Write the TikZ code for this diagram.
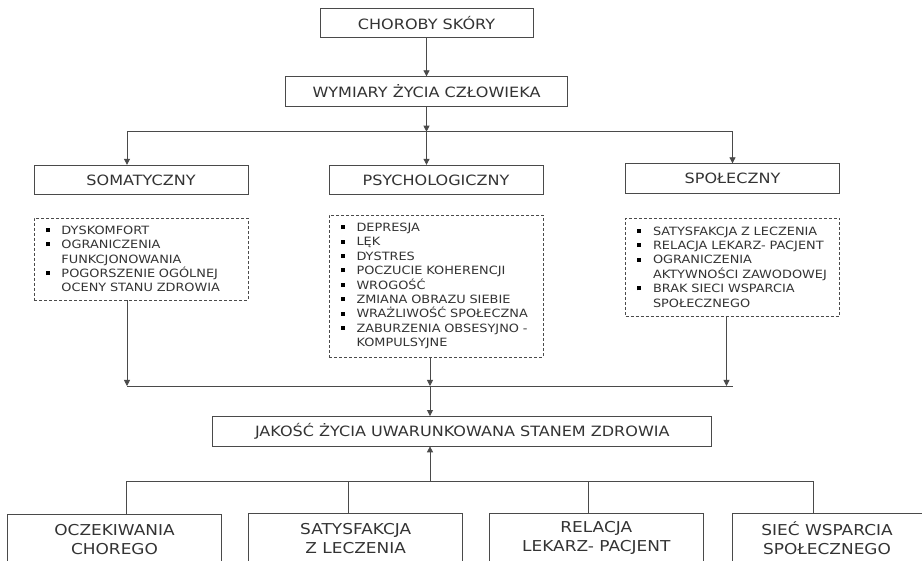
\documentclass[tikz,border=0pt]{standalone}
\usepackage{fontspec}
\setmainfont{DejaVu Sans}[FakeStretch=1.13]
\usetikzlibrary{arrows.meta,positioning,calc}
\definecolor{ink}{HTML}{333333}
\definecolor{edge}{HTML}{4A4A4A}
\newcommand{\lbul}{\makebox[20.5pt][l]{\hspace{4.5pt}\textcolor{black}{\rule[2.3pt]{4pt}{4pt}}}}
\newcommand{\lcont}{\hspace*{20.5pt}}

\begin{document}
\begin{tikzpicture}[
  x=1pt, y=-1pt, text=ink,
  box/.style={draw=edge, fill=white, line width=.8pt, inner sep=0pt, align=center,
              minimum width=#1, minimum height=29.5pt, font=\fontsize{14.2}{17}\selectfont},
  box/.default=214pt,
  lst/.style={draw=edge, line width=.8pt, dash pattern=on 3pt off 2pt, align=left,
              inner xsep=7pt, inner ysep=0pt, text width=200pt, minimum height=#1,
              font=\fontsize{11.4}{14.4}\selectfont},
  outc/.style={draw=edge, line width=.8pt, align=center, inner sep=0pt, anchor=north,
               minimum width=#1, minimum height=50pt, font=\fontsize{15}{19}\selectfont},
  outc/.default=214pt,
  ar/.style={-{Triangle[length=6pt,width=6pt]}, draw=edge, line width=.8pt},
  ln/.style={draw=edge, line width=.8pt},
]
\path[use as bounding box, clip] (0,0) rectangle (922,561);

%% ================= source and dimensions =================
\node[box=213pt] (skin) at (426.5,23) {CHOROBY SKÓRY};
\node[box=282pt] (dims) at (426.5,91.5) {WYMIARY ŻYCIA CZŁOWIEKA};

\node[box] (soma)   at (141,180)   {SOMATYCZNY};
\node[box] (psych)  at (436,180)   {PSYCHOLOGICZNY};
\node[box] (social) at (732.5,178.5) {SPOŁECZNY};

\coordinate (fork) at (426.5,131.7);
\draw[ar] (skin) -- (dims);
\draw[ar] (dims) -- (fork);
\draw[ar] (fork) -| ([xshift=-14pt]soma.north);
\draw[ar] (fork) -- (psych.north -| fork);
\draw[ar] (fork) -| (social.north);

%% ================= lists of factors =================
\node[lst=82pt] (somal) at (141,259)
  {\lbul DYSKOMFORT\\
   \lbul OGRANICZENIA\\
   \lcont FUNKCJONOWANIA\\
   \lbul POGORSZENIE OGÓLNEJ\\
   \lcont OCENY STANU ZDROWIA};
\node[lst=142pt] (psychl) at (436,286)
  {\lbul DEPRESJA\\
   \lbul LĘK\\
   \lbul DYSTRES\\
   \lbul POCZUCIE KOHERENCJI\\
   \lbul WROGOŚĆ\\
   \lbul ZMIANA OBRAZU SIEBIE\\
   \lbul WRAŻLIWOŚĆ SPOŁECZNA\\
   \lbul ZABURZENIA OBSESYJNO -\\
   \lcont KOMPULSYJNE};
\node[lst=98pt] (sociall) at (732.5,267)
  {\lbul SATYSFAKCJA Z LECZENIA\\
   \lbul RELACJA LEKARZ- PACJENT\\
   \lbul OGRANICZENIA\\
   \lcont AKTYWNOŚCI ZAWODOWEJ\\
   \lbul BRAK SIECI WSPARCIA\\
   \lcont SPOŁECZNEGO};

%% ================= quality of life =================
\node[box=499pt] (hrqol) at (462.3,431.2) {JAKOŚĆ ŻYCIA UWARUNKOWANA STANEM ZDROWIA};

\coordinate (join) at (430,386);
\foreach \n/\dx in {somal/-14, psychl/-6, sociall/-6}
  \draw[ar] ([xshift=\dx pt]\n.south) -- ([xshift=\dx pt]\n.south |- join);
\draw[ln] ([xshift=-14pt]somal.south |- join) -- (social.south |- join);
\draw[ar] (join) -- (join |- hrqol.north);

%% ================= outside factors =================
\node[outc]       (out1) at (114.5,514) {OCZEKIWANIA\\CHOREGO};
\node[outc]       (out2) at (355.7,513) {SATYSFAKCJA\\Z LECZENIA};
\node[outc]       (out3) at (596.3,513) {RELACJA\\LEKARZ- PACJENT};
\node[outc=190pt] (out4) at (827,512.7) {SIEĆ WSPARCIA\\SPOŁECZNEGO};

\coordinate (gather) at (430,481);
\draw[ar] (gather) -- (gather |- hrqol.south);
\foreach \n/\dx in {out1/12.2, out2/-7.4, out3/-8, out4/-13.7}
  \draw[ln] ([xshift=\dx pt]\n.north) |- (gather);

\end{tikzpicture}
\end{document}
